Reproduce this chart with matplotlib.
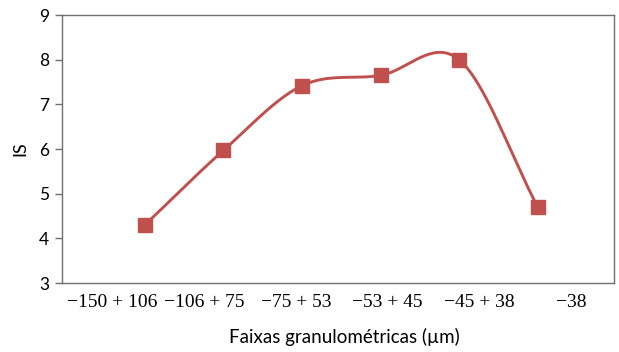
import numpy as np
import matplotlib
matplotlib.use("Agg")
import matplotlib.pyplot as plt

faixas = ["\u2212150 + 106", "\u2212106 + 75", "\u221275 + 53", "\u221253 + 45", "\u221245 + 38", "\u221238"]
IS = [4.3, 5.97, 7.42, 7.65, 8.0, 4.7]
xpos = [1, 2, 3, 4, 5, 6]
label_pos = [0.59, 1.76, 2.93, 4.09, 5.26, 6.42]  # labels sit off the points in the original


def catmull_rom(x, y, n=40):
    # smoothed line like a spreadsheet "smooth line"
    x = np.asarray(x, float)
    y = np.asarray(y, float)
    px = np.concatenate([[2 * x[0] - x[1]], x, [2 * x[-1] - x[-2]]])
    py = np.concatenate([[2 * y[0] - y[1]], y, [2 * y[-1] - y[-2]]])
    xs, ys = [], []
    t = np.linspace(0, 1, n)
    for i in range(1, len(px) - 2):
        for p, out in ((px, xs), (py, ys)):
            p0, p1, p2, p3 = p[i - 1], p[i], p[i + 1], p[i + 2]
            out.append(0.5 * (2 * p1 + (-p0 + p2) * t + (2 * p0 - 5 * p1 + 4 * p2 - p3) * t ** 2
                              + (-p0 + 3 * p1 - 3 * p2 + p3) * t ** 3))
    return np.concatenate(xs), np.concatenate(ys)


fig = plt.figure(figsize=(6.19, 3.52), dpi=100)
ax = fig.add_axes([0.1, 0.196, 0.892, 0.761])

red = "#C0504D"
sx, sy = catmull_rom(xpos, IS)
ax.plot(sx, sy, color=red, lw=2.1)
ax.plot(xpos, IS, ls="none", marker="s", ms=10, color=red)

ax.set_xlim(-0.055, 6.97)
ax.set_ylim(3, 9)
ax.set_yticks(range(3, 10))
ax.set_xticks(label_pos)
ax.set_xticklabels(faixas, family="Liberation Serif", fontsize=14)
ax.tick_params(axis="x", length=0, pad=8)
ax.tick_params(axis="y", length=5, color="#707070", width=1, labelsize=12.5, pad=4)
for lab in ax.get_yticklabels():
    lab.set_family("Lato")

for s in ax.spines.values():
    s.set_color("#707070")
    s.set_linewidth(1)

ax.set_ylabel("IS", family="Lato", fontsize=13, labelpad=8)
ax.set_xlabel("Faixas granulométricas (\u00b5m)", family="Lato", fontsize=13.5, labelpad=14)
ax.xaxis.set_label_coords(0.511, -0.2)
ax.xaxis.label.set_va("center")

fig.savefig("out.png", dpi=100)
